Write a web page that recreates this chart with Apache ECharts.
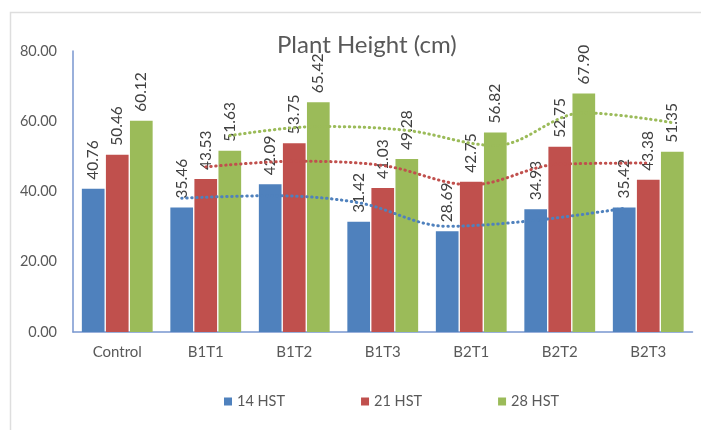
<!DOCTYPE html>
<html>
<head>
<meta charset="utf-8">
<script src="https://cdn.jsdelivr.net/npm/echarts@6/dist/echarts.min.js"></script>
<style>html,body{margin:0;padding:0;background:#fff;}#c{width:701px;height:430px;}</style>
</head>
<body>
<div id="c"></div>
<script>
var categories = ['Control', 'B1T1', 'B1T2', 'B1T3', 'B2T1', 'B2T2', 'B2T3'];
var seriesNames = ['14 HST', '21 HST', '28 HST'];
var hst14 = [40.76, 35.46, 42.09, 31.42, 28.69, 34.93, 35.42];
var hst21 = [50.46, 43.53, 53.75, 41.03, 42.75, 52.75, 43.38];
var hst28 = [60.12, 51.63, 65.42, 49.28, 56.82, 67.90, 51.35];
// dotted trend lines, starting at B1T1
var trend14 = [38.1, 38.8, 36.8, 30.1, 31.8, 35.2];
var trend21 = [47.0, 48.6, 47.4, 41.9, 47.8, 48.1];
var trend28 = [55.9, 58.5, 57.4, 53.1, 62.4, 59.6];
var yTicks = [0, 20, 40, 60, 80];

var colors = ['#4f81bd', '#c0504d', '#9bbb59'];
var FONT = 'Lato';
var catGap = 0.2, barGapRatio = 0.06;
var bw = (1 - catGap) / (3 + 2 * barGapRatio);
var step = bw * (1 + barGapRatio);

function barSeries(name, data, idx) {
  return {
    name: name, type: 'bar', data: data, xAxisIndex: 0,
    barCategoryGap: (catGap * 100) + '%', barGap: (barGapRatio * 100) + '%',
    itemStyle: { color: colors[idx] },
    label: {
      show: true, position: 'top', rotate: 90, align: 'left', verticalAlign: 'middle',
      distance: 9, color: '#404040', fontFamily: FONT, fontSize: 15.5,
      formatter: function (p) { return p.value.toFixed(2); }
    },
    z: 2
  };
}
function trendSeries(data, idx) {
  var off = (idx - 1) * step;
  return {
    type: 'line', xAxisIndex: 1, smooth: 0.35, symbol: 'none', silent: true,
    data: data.map(function (v, i) { return [i + 1 + off, v]; }),
    lineStyle: { color: colors[idx], width: 3, type: [0.5, 4.5], cap: 'round' },
    z: 5
  };
}

var chart = echarts.init(document.getElementById('c'));
chart.setOption({
  animation: false,
  backgroundColor: '#fff',
  graphic: [{
    type: 'rect', shape: { x: 10.5, y: 12.5, width: 800, height: 600 },
    style: { fill: 'none', stroke: '#dedede', lineWidth: 1.5 }, z: -1, silent: true
  }],
  title: {
    text: 'Plant Height (cm)', left: 272, top: 28,
    textStyle: { fontFamily: FONT, fontSize: 24, fontWeight: 'normal', color: '#595959' }
  },
  legend: {
    data: seriesNames, left: 219, top: 389, itemWidth: 8, itemHeight: 8, itemGap: 76,
    icon: 'rect',
    textStyle: { fontFamily: FONT, fontSize: 14.5, color: '#595959' }
  },
  grid: { left: 73, right: 8.5, top: 51, bottom: 98, containLabel: false },
  xAxis: [{
    type: 'category', data: categories,
    axisLine: { show: true, lineStyle: { color: '#7896cf', width: 1.5 } },
    axisTick: { show: false },
    axisLabel: { margin: 13, fontFamily: FONT, fontSize: 15, color: '#595959' }
  }, {
    type: 'value', min: -0.5, max: 6.5, show: false
  }],
  yAxis: {
    type: 'value', min: yTicks[0], max: yTicks[yTicks.length - 1], interval: 20,
    axisLine: { show: true, onZero: false, lineStyle: { color: '#7896cf', width: 1.5 } },
    axisTick: { show: false },
    splitLine: { show: false },
    axisLabel: { margin: 16, fontFamily: FONT, fontSize: 14.5, color: '#595959',
      formatter: function (v) { return v.toFixed(2); } }
  },
  series: [
    barSeries(seriesNames[0], hst14, 0),
    barSeries(seriesNames[1], hst21, 1),
    barSeries(seriesNames[2], hst28, 2),
    trendSeries(trend14, 0),
    trendSeries(trend21, 1),
    trendSeries(trend28, 2)
  ]
});
</script>
</body>
</html>
